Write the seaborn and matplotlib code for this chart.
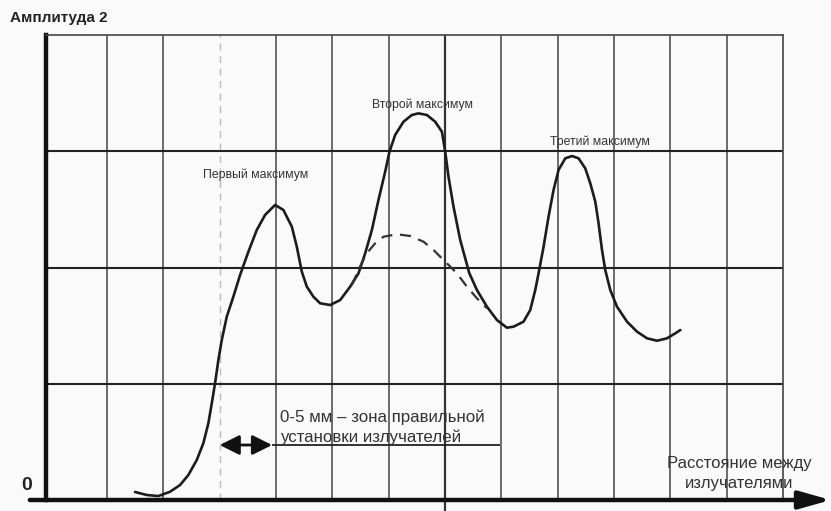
import numpy as np
import pandas as pd
import matplotlib
matplotlib.use("Agg")
import matplotlib.pyplot as plt
import seaborn as sns

# ------------------------------------------------------------
# data (grid units: 1 column = 1, 1 row = 1)
# ------------------------------------------------------------
curve_x = [1.497, 1.705, 1.911, 2.119, 2.297, 2.444, 2.593, 2.710, 2.799, 2.860,
           2.918, 2.977, 3.037, 3.126, 3.243, 3.362, 3.510, 3.659, 3.806, 3.984,
           4.131, 4.281, 4.369, 4.458, 4.547, 4.664, 4.783, 4.961, 5.139, 5.316,
           5.464, 5.583, 5.702, 5.819, 5.938, 6.014, 6.115, 6.263, 6.412, 6.529,
           6.678, 6.826, 6.945, 7.004, 7.062, 7.151, 7.270, 7.430, 7.567, 7.744,
           7.922, 8.099, 8.217, 8.394, 8.513, 8.602, 8.661, 8.750, 8.838, 8.927,
           9.016, 9.135, 9.254, 9.371, 9.490, 9.579, 9.668, 9.726, 9.787, 9.845,
           9.934, 10.053, 10.231, 10.409, 10.586, 10.764, 10.941, 11.089, 11.178]
curve_y = [0.069, 0.043, 0.034, 0.071, 0.129, 0.215, 0.344, 0.488, 0.660, 0.832,
           1.004, 1.204, 1.376, 1.577, 1.749, 1.935, 2.136, 2.323, 2.452, 2.538,
           2.495, 2.351, 2.179, 1.964, 1.835, 1.749, 1.692, 1.677, 1.720, 1.835,
           1.950, 2.122, 2.323, 2.581, 2.824, 2.996, 3.140, 3.254, 3.312, 3.326,
           3.312, 3.254, 3.168, 2.996, 2.781, 2.523, 2.237, 1.953, 1.806, 1.663,
           1.548, 1.482, 1.491, 1.534, 1.634, 1.806, 1.950, 2.179, 2.437, 2.667,
           2.839, 2.939, 2.959, 2.939, 2.853, 2.724, 2.566, 2.380, 2.151, 1.978,
           1.806, 1.663, 1.534, 1.448, 1.391, 1.370, 1.391, 1.434, 1.462]

dash_x = [5.346, 5.464, 5.600, 5.760, 5.908, 6.146, 6.382, 6.618, 6.796, 6.915,
          7.034, 7.211, 7.389, 7.567, 7.744]
dash_y = [1.849, 1.978, 2.116, 2.208, 2.265, 2.286, 2.271, 2.222, 2.151, 2.093,
          2.036, 1.950, 1.835, 1.735, 1.649]

peak_labels = ["Первый максимум", "Второй максимум", "Третий максимум"]
peak_label_x = [2.70, 5.71, 8.87]
peak_label_y = [2.80, 3.40, 3.08]

zone_start, zone_end = 3.0, 3.93

# ------------------------------------------------------------
# plot
# ------------------------------------------------------------
sns.set_theme(style="white")
plt.rcParams['font.family'] = ['Liberation Sans', 'DejaVu Sans']

ink = "#1c1c1c"
fig = plt.figure(figsize=(8.31, 5.11), dpi=100, facecolor="#fafafa")
ax = fig.add_axes([46 / 831, 11 / 511, 737 / 831, 465 / 511])
ax.set_facecolor("#fafafa")
ax.set_xlim(-0.083, 13)
ax.set_ylim(0, 4)

# grid
for k in range(1, 13):
    if k == 3:
        ax.vlines(k, 0, 4, color="#bbbbbb", lw=1.0, ls=(0, (5, 4)))
    elif k == 7:
        ax.vlines(k, -0.1, 4, color="#333333", lw=1.6, clip_on=False)
    else:
        ax.vlines(k, 0, 4, color="#444444", lw=1.1)
for r in range(1, 4):
    ax.hlines(r, -0.083, 13, color="#222222", lw=1.5)

for side in ["top", "right"]:
    ax.spines[side].set_color("#444444")
    ax.spines[side].set_linewidth(1.2)
ax.spines["left"].set_color("#111111")
ax.spines["left"].set_linewidth(3.2)
ax.spines["bottom"].set_visible(False)
ax.set_xticks([])
ax.set_yticks([])

# x axis arrow
ax.annotate("", xy=(13.85, 0), xytext=(-0.37, 0), annotation_clip=False,
            arrowprops=dict(arrowstyle="-|>,head_length=1.6,head_width=0.45",
                            color="#111111", lw=3.2, shrinkA=0, shrinkB=0))

# curves
sns.lineplot(x=curve_x, y=curve_y, ax=ax, color=ink, lw=1.9, sort=False,
             solid_joinstyle="round", solid_capstyle="round")
sns.lineplot(x=dash_x, y=dash_y, ax=ax, color="#333333", lw=1.6, sort=False,
             linestyle=(0, (5, 3.5)))

# labels
for lab, lx, ly in zip(peak_labels, peak_label_x, peak_label_y):
    ax.text(lx, ly, lab, fontsize=8.8, color="#333333", va="center", ha="left")

# zone arrow and text
ax.annotate("", xy=(zone_start, 0.473), xytext=(zone_end, 0.473),
            arrowprops=dict(arrowstyle="<|-|>,head_length=1.0,head_width=0.5",
                            color="#111111", lw=2.0, shrinkA=0, shrinkB=0))
ax.hlines(0.473, zone_end, 7.98, color="#222222", lw=1.3)
ax.text(4.07, 0.714, "0-5 мм – зона правильной", fontsize=12.2,
        color="#333333", va="center", ha="left")
ax.text(4.07, 0.542, "установки излучателей", fontsize=12.2,
        color="#333333", va="center", ha="left")

ax.text(12.22, 0.318, "Расстояние между", fontsize=12,
        color="#333333", va="center", ha="center")
ax.text(12.22, 0.146, "излучателями", fontsize=12,
        color="#333333", va="center", ha="center")

fig.text(10 / 831, 1 - 18 / 511, "Амплитуда 2", fontsize=11, fontweight="bold",
         color="#222222", va="center", ha="left")
fig.text(27 / 831, 1 - 485 / 511, "0", fontsize=14, fontweight="bold",
         color="#222222", va="center", ha="center")

fig.savefig("out.png", dpi=100, facecolor=fig.get_facecolor())
